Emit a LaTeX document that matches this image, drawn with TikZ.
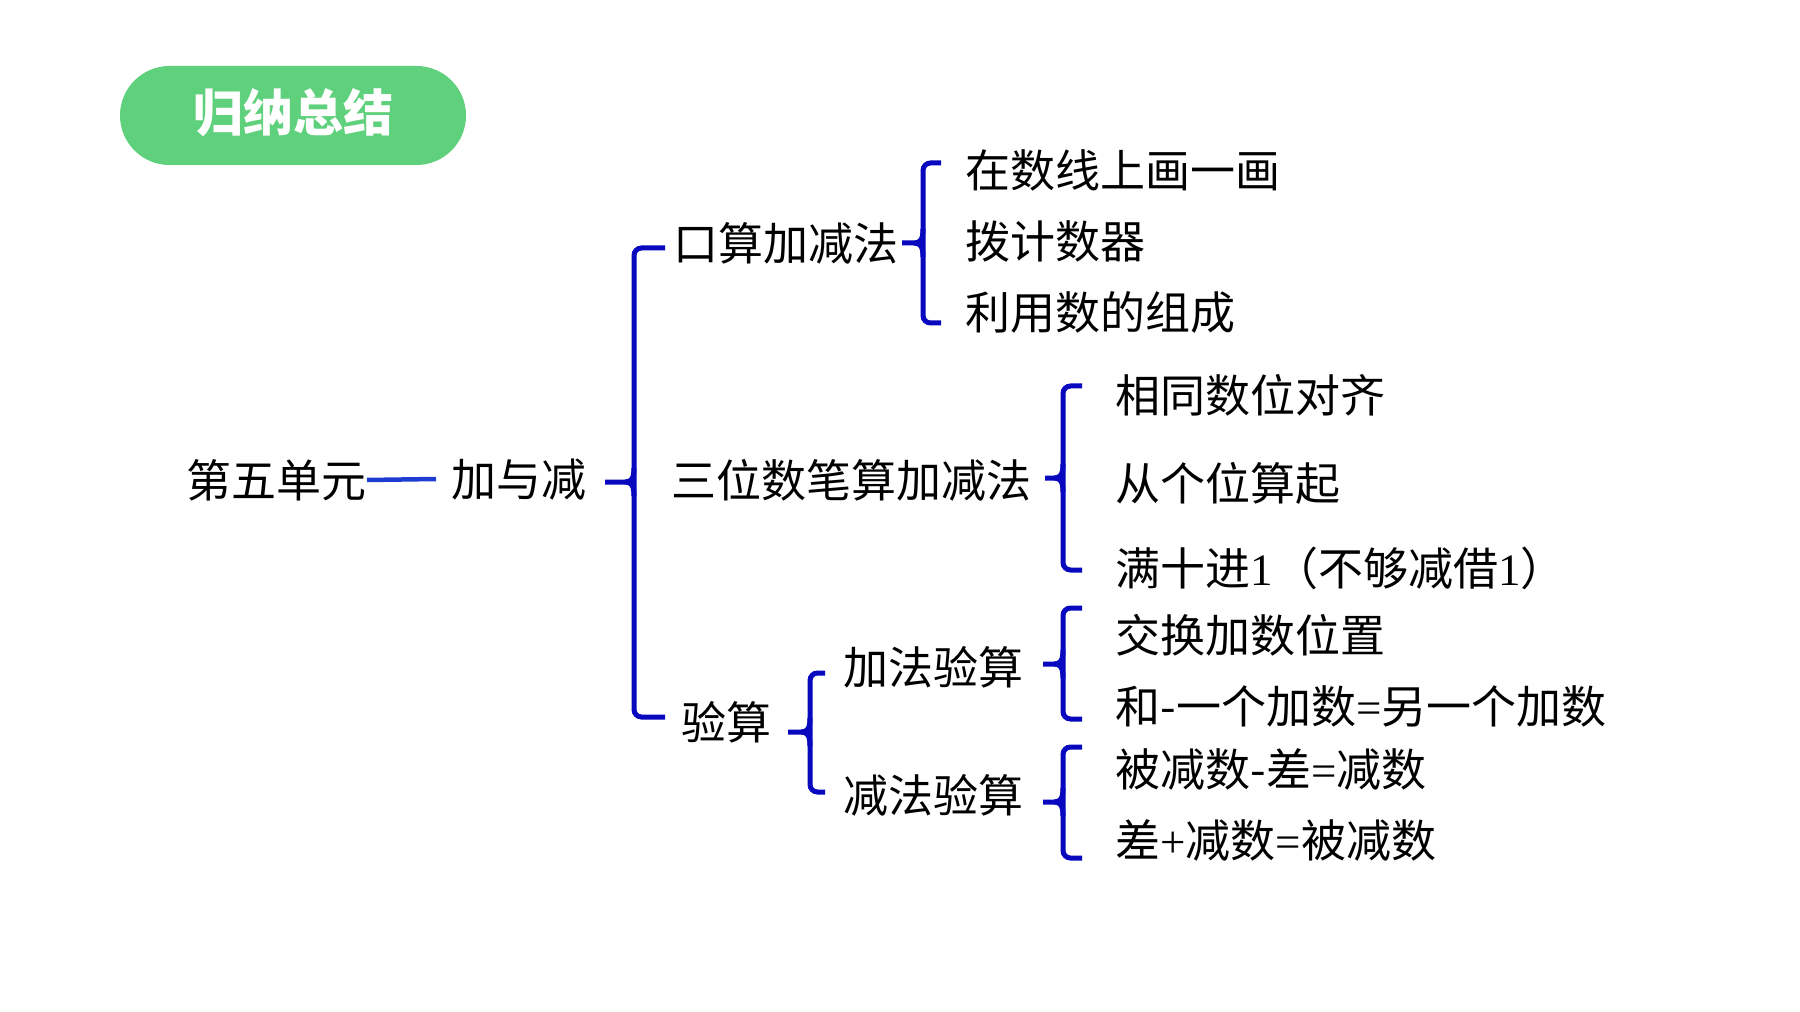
\documentclass[tikz,border=0pt]{standalone}
\usepackage{fontspec}
\setmainfont{Noto Sans CJK SC}
\newfontfamily\tnr{Liberation Serif}
\definecolor{pillgreen}{RGB}{95,208,123}
\definecolor{braceblue}{RGB}{8,8,190}
\definecolor{lineblue}{RGB}{30,60,210}
\newcommand\drawbrace[6]{%
  \draw[brace,rounded corners=3pt] (#6,#4) -- (#3,#4) -- (#3,#5) -- (#6,#5);
  \draw[brace] (#1,#2) -- ({#3-9},#2) .. controls ({#3-3},#2) and (#3,{#2-3}) .. (#3,{#2-14});
  \draw[brace] ({#3-9},#2) .. controls ({#3-3},#2) and (#3,{#2+3}) .. (#3,{#2+14});
}
\begin{document}
\begin{tikzpicture}[x=0.4pt,y=-0.4pt,
  brace/.style={draw=braceblue,line width=2pt},
  txt/.style={anchor=west,inner sep=0pt,font=\fontsize{18pt}{20pt}\selectfont,text=black},
  pill/.style={fill=pillgreen,rounded corners=19.8pt}]
\useasboundingbox (0,0) rectangle (1800,1012);
\fill[white] (0,0) rectangle (1800,1012);
% title pill
\fill[pill] (120,66) rectangle (466,165);
\node[anchor=base,inner sep=0pt,text=white,font=\fontsize{20pt}{22pt}\selectfont\bfseries] (title) at (293,132) {归纳总结};
% root
\node[txt] (unit) at (186,480) {第五单元};
\node[txt] (jy) at (451,480) {加与减};
\coordinate (lineend) at (436,479);
\draw[lineblue,line width=1.8pt] (unit.east) -- (lineend);
% level 1
\node[txt] (ks) at (673,243) {口算加减法};
\node[txt] (bs) at (671,480) {三位数笔算加减法};
\node[txt] (ys) at (681,722) {验算};
\drawbrace{605}{482}{634}{248}{717}{665}
% 口算
\node[txt] (k1) at (965,170) {在数线上画一画};
\node[txt] (k2) at (965,241) {拨计数器};
\node[txt] (k3) at (965,312) {利用数的组成};
\drawbrace{902}{243}{923}{163}{323}{941}
% 笔算
\node[txt] (s1) at (1115,395) {相同数位对齐};
\node[txt] (s2) at (1115,483) {从个位算起};
\node[txt] (s3) at (1115,568) {满十进{\tnr 1}（不够减借{\tnr 1}）};
\drawbrace{1045}{478}{1063}{386}{570}{1082}
% 验算
\node[txt] (ja) at (843,667) {加法验算};
\node[txt] (jj) at (843,795) {减法验算};
\drawbrace{788}{732}{810}{673}{792}{825}
\node[txt] (a1) at (1115,635) {交换加数位置};
\node[txt] (a2) at (1115,706) {和-一个加数{\tnr =}另一个加数};
\drawbrace{1043}{664}{1063}{608}{719}{1082}
\node[txt] (m1) at (1115,769) {被减数-差{\tnr =}减数};
\node[txt] (m2) at (1115,840) {差{\tnr +}减数{\tnr =}被减数};
\drawbrace{1043}{802}{1063}{747}{858}{1082}
\end{tikzpicture}
\end{document}
